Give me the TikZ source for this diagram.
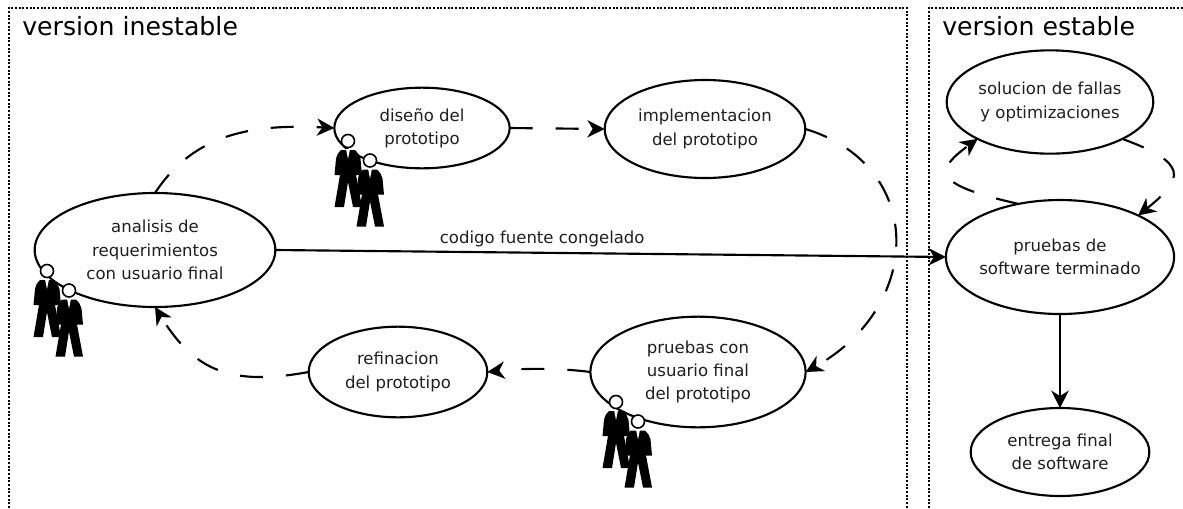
\documentclass[tikz,border=0pt]{standalone}
\usepackage{fontspec}
\setmainfont{DejaVu Sans}
\usetikzlibrary{arrows.meta,shapes.geometric}
\definecolor{txt}{gray}{0.12}
\tikzset{
  uc/.style={draw=black,ellipse,fill=white,line width=1.6pt,inner sep=0pt,outer sep=0pt,align=center,text=txt,
    font=\fontsize{12.4}{17.4}\selectfont},
  conn/.style={line width=1.6pt,-{Stealth[length=13pt,width=13pt,inset=4pt]}},
  dashconn/.style={conn,dash pattern=on 17.25pt off 17.25pt},
  zone/.style={line width=1.5pt,dash pattern=on 1.4pt off 1.35pt},
  zonetitle/.style={anchor=base west,font=\fontsize{18.9}{22}\selectfont,inner sep=0pt},
  lbl/.style={font=\fontsize{12.4}{15}\selectfont,text=txt,inner sep=0pt},
  person/.pic={
    \fill[black] (-7,9) .. controls (-10,11) and (-11,14) .. (-12,18) -- (-13.5,34) -- (-8,34) -- (-13.5,66) -- (-4,66) -- (0,41) -- (5,66) -- (14,66) -- (8,34) -- (14,34) -- (12.5,18) .. controls (11,14) and (10,11) .. (7,9) -- cycle;
    \fill[white] (-2,8) -- (0,18) -- (2,8) -- cycle;
    \draw[line width=1.2pt,fill=white] (0,0) circle (6.5);
  },
  couple/.pic={
    \pic {person};
    \pic at (22,19.5) {person};
  }
}
\begin{document}
\begin{tikzpicture}[x=0.75pt,y=-0.75pt]
\useasboundingbox (0,0) rectangle (1183,508);
\draw[zone] (9,508) -- (9,8) -- (907,8) -- (907,508);
\draw[zone] (929,508) -- (929,8) -- (1183,8);
\node[zonetitle] (t1) at (22,35) {version inestable};
\node[zonetitle] (t2) at (942,35) {version estable};

\node[uc,minimum width=180.5pt,minimum height=85.5pt] (a) at (155,250) {analisis de\\requerimientos\\con usuario final};
\node[uc,minimum width=131.5pt,minimum height=60.5pt] (d) at (422,128) {diseño del\\prototipo};
\node[uc,minimum width=150.5pt,minimum height=73.5pt] (i) at (705,129) {implementacion\\del prototipo};
\node[uc,minimum width=161.5pt,minimum height=83pt] (p) at (698,372) {pruebas con\\usuario final\\del prototipo};
\node[uc,minimum width=134pt,minimum height=68pt] (r) at (398,372) {refinacion\\del prototipo};
\node[uc,minimum width=155pt,minimum height=77.5pt] (s) at (1050,102) {solucion de fallas\\y optimizaciones};
\node[uc,minimum width=171pt,minimum height=85.5pt] (f) at (1060,257) {pruebas de\\software terminado};
\node[uc,minimum width=134pt,minimum height=66pt] (e) at (1060,452) {entrega final\\de software};

\draw[dashconn] (a.north) .. controls (195,132) and (255,124) .. (d.west);
\draw[dashconn] (d.east) -- (i.west);
\draw[dashconn] (i.east) .. controls (925,165) and (925,305) .. (p.east);
\draw[dashconn] (p.west) .. controls (560,368) and (525,368) .. (r.east);
\draw[dashconn] (r.west) .. controls (232,386) and (195,372) .. (a.south);
\draw[dashconn] (s.-27) .. controls (1188,163) and (1185,178) .. (f.28);
\draw[dashconn] (f.128) .. controls (935,185) and (932,172) .. (s.207);
\draw[conn] (a.east) -- node[lbl,pos=0.398,yshift=10.5pt] (c) {codigo fuente congelado} (f.west);
\draw[conn] (f.south) -- (e.north);

\pic at (47,271) {couple};
\pic at (348,141) {couple};
\pic at (616,402) {couple};
\end{tikzpicture}
\end{document}
